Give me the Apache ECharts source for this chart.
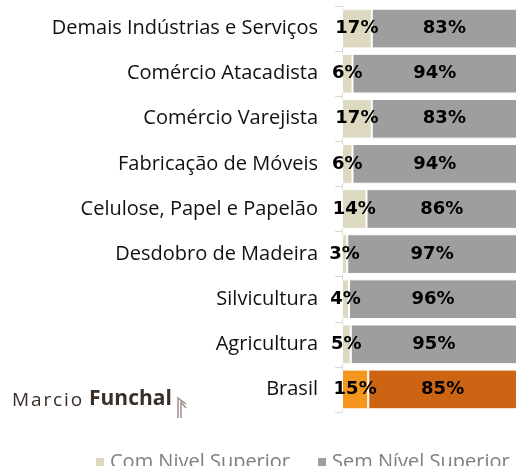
<!DOCTYPE html>
<html>
<head>
<meta charset="utf-8">
<script src="https://cdn.jsdelivr.net/npm/echarts@6/dist/echarts.min.js"></script>
<style>
  html, body { margin: 0; padding: 0; background: #fff; }
  #chart { width: 517px; height: 466px; }
</style>
</head>
<body>
<div id="chart"></div>
<script>
const categories = [
  'Demais Indústrias e Serviços',
  'Comércio Atacadista',
  'Comércio Varejista',
  'Fabricação de Móveis',
  'Celulose, Papel e Papelão',
  'Desdobro de Madeira',
  'Silvicultura',
  'Agricultura',
  'Brasil'
]
const comSuperior = [17, 6, 17, 6, 14, 3, 4, 5, 15]
const semSuperior = [83, 94, 83, 94, 86, 97, 96, 95, 85]
const seriesNames = ['Com Nivel Superior', 'Sem Nível Superior']

// Brasil row gets its own colors
const highlight = 'Brasil'
const colors = {
  com: '#ddd8c0',
  sem: '#9e9e9e',
  comHi: '#f5961f',
  semHi: '#cc6414'
}

function withHighlight(values, base, hi) {
  return values.map((v, i) => ({
    value: v,
    itemStyle: { color: categories[i] === highlight ? hi : base }
  }))
}

const labelStyle = {
  show: true,
  position: 'inside',
  formatter: '{c}%',
  color: '#000',
  fontFamily: 'DejaVu Sans',
  fontWeight: 'bold',
  fontSize: 18
}

const chart = echarts.init(document.getElementById('chart'))
chart.setOption({
  animation: false,
  grid: { left: 342, right: 0, top: 6, bottom: 54 },
  legend: {
    data: seriesNames,
    bottom: -11,
    left: 89,
    width: 800,
    itemWidth: 10,
    itemHeight: 10,
    itemGap: 26,
    icon: 'rect',
    textStyle: { color: '#7f7f7f', fontFamily: 'Open Sans', fontSize: 20 }
  },
  xAxis: { type: 'value', min: 0, max: 100, show: false },
  yAxis: {
    type: 'category',
    data: categories,
    inverse: true,
    axisLine: { show: true, lineStyle: { color: '#d9d9d9' } },
    axisTick: { show: true, length: 7, lineStyle: { color: '#d9d9d9' } },
    axisLabel: { color: '#111', fontFamily: 'Open Sans', fontSize: 20, margin: 24 }
  },
  series: [
    {
      name: seriesNames[0],
      type: 'bar',
      stack: 'total',
      barCategoryGap: '12%',
      data: withHighlight(comSuperior, colors.com, colors.comHi),
      itemStyle: { color: colors.com, borderColor: '#fff', borderWidth: 1 },
      label: labelStyle
    },
    {
      name: seriesNames[1],
      type: 'bar',
      stack: 'total',
      barCategoryGap: '12%',
      data: withHighlight(semSuperior, colors.sem, colors.semHi),
      itemStyle: { color: colors.sem, borderColor: '#fff', borderWidth: 1 },
      label: labelStyle
    }
  ],
  graphic: [
    {
      type: 'text',
      left: 12,
      top: 391,
      style: { text: 'M\u200Aa\u200Ar\u200Ac\u200Ai\u200Ao', fill: '#3a2e29', font: '19px "Open Sans"' }
    },
    {
      type: 'text',
      left: 89,
      top: 389,
      style: { text: 'Funchal', fill: '#3a2e29', font: 'bold 21px "Open Sans"' }
    },
    {
      type: 'polyline',
      shape: { points: [[178, 418], [178, 398], [186, 404]] },
      style: { stroke: '#a0908a', lineWidth: 1.5, fill: 'none' }
    },
    {
      type: 'polyline',
      shape: { points: [[181, 418], [181, 402], [186, 408]] },
      style: { stroke: '#a0908a', lineWidth: 1.5, fill: 'none' }
    }
  ]
})
</script>
</body>
</html>
